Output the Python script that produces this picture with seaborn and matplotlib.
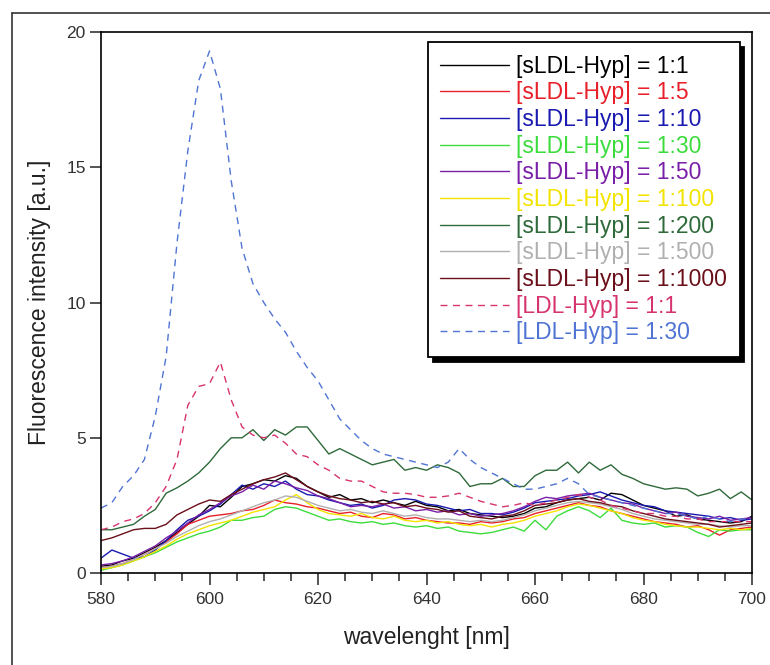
import matplotlib
matplotlib.use("Agg")
import matplotlib.pyplot as plt
import seaborn as sns
import numpy as np

# wavelength grid (nm), values read every 2 nm
wavelength = list(range(580, 701, 2))

s_1_1 = [0.25, 0.3, 0.45, 0.55, 0.75, 0.95, 1.2, 1.5, 1.8, 2.1, 2.5, 2.45, 2.8, 3.2, 3.3, 3.45,
         3.4, 3.6, 3.5, 3.2, 3.0, 2.8, 2.9, 2.7, 2.75, 2.6, 2.7, 2.6, 2.5, 2.65, 2.5, 2.45,
         2.3, 2.35, 2.2, 2.15, 2.1, 2.05, 2.1, 2.2, 2.4, 2.45, 2.6, 2.7, 2.75, 2.8, 2.7, 2.95,
         2.9, 2.7, 2.5, 2.4, 2.3, 2.1, 2.15, 2.0, 1.95, 1.9, 1.85, 1.9, 2.1]
s_1_5 = [0.2, 0.25, 0.35, 0.5, 0.7, 0.9, 1.15, 1.45, 1.8, 1.95, 2.1, 2.15, 2.2, 2.3, 2.35, 2.5,
         2.7, 2.6, 2.55, 2.45, 2.4, 2.3, 2.2, 2.25, 2.1, 2.05, 2.2, 2.15, 2.0, 2.05, 1.95, 1.9,
         1.85, 1.85, 1.8, 1.9, 1.85, 1.9, 2.0, 2.05, 2.2, 2.3, 2.4, 2.5, 2.6, 2.5, 2.45, 2.3,
         2.2, 2.1, 2.0, 1.9, 1.85, 1.8, 1.7, 1.75, 1.6, 1.4, 1.6, 1.65, 1.7]
s_1_10 = [0.55, 0.85, 0.7, 0.55, 0.6, 0.85, 1.2, 1.6, 1.95, 2.1, 2.3, 2.55, 2.9, 3.25, 3.1, 3.3,
          3.2, 3.4, 3.1, 2.9, 2.85, 2.7, 2.6, 2.5, 2.55, 2.4, 2.5, 2.7, 2.75, 2.7, 2.55, 2.5,
          2.4, 2.3, 2.35, 2.2, 2.2, 2.15, 2.25, 2.4, 2.6, 2.65, 2.7, 2.75, 2.85, 2.9, 3.0, 2.85,
          2.7, 2.6, 2.5, 2.45, 2.3, 2.25, 2.2, 2.15, 2.1, 2.0, 2.05, 1.95, 2.0]
s_1_30 = [0.1, 0.2, 0.3, 0.45, 0.6, 0.75, 0.95, 1.15, 1.3, 1.45, 1.55, 1.7, 1.95, 1.95, 2.05, 2.1,
          2.35, 2.45, 2.4, 2.25, 2.1, 1.95, 2.0, 1.9, 1.85, 1.9, 1.8, 1.85, 1.75, 1.7, 1.75, 1.65,
          1.7, 1.55, 1.5, 1.45, 1.5, 1.6, 1.7, 1.55, 1.95, 1.6, 2.1, 2.3, 2.45, 2.3, 2.05, 2.4,
          1.95, 1.85, 1.8, 1.85, 1.7, 1.75, 1.7, 1.5, 1.35, 1.6, 1.55, 1.6, 1.6]
s_1_50 = [0.3, 0.35, 0.45, 0.6, 0.8, 1.0, 1.3, 1.55, 1.85, 2.15, 2.35, 2.6, 2.85, 3.0, 3.25, 3.1,
          3.4, 3.3, 3.15, 3.05, 2.85, 2.75, 2.6, 2.45, 2.5, 2.45, 2.55, 2.4, 2.45, 2.3, 2.35, 2.25,
          2.3, 2.15, 2.2, 2.1, 2.15, 2.2, 2.3, 2.45, 2.65, 2.8, 2.75, 2.85, 2.9, 2.95, 2.8, 2.7,
          2.6, 2.55, 2.4, 2.3, 2.2, 2.25, 2.1, 2.05, 2.0, 2.1, 1.95, 2.0, 2.05]
s_1_100 = [0.15, 0.2, 0.3, 0.45, 0.6, 0.8, 1.0, 1.25, 1.45, 1.6, 1.75, 1.85, 1.95, 2.1, 2.25, 2.35,
           2.45, 2.7, 2.9, 2.6, 2.35, 2.2, 2.15, 2.1, 2.2, 2.05, 2.0, 2.1, 1.95, 1.9, 1.95, 1.85,
           1.9, 1.8, 1.75, 1.8, 1.7, 1.8, 1.85, 1.95, 2.1, 2.2, 2.3, 2.45, 2.55, 2.5, 2.4, 2.3,
           2.2, 2.05, 1.95, 1.9, 1.8, 1.75, 1.7, 1.7, 1.65, 1.6, 1.65, 1.6, 1.65]
s_1_200 = [1.6, 1.6, 1.7, 1.8, 2.1, 2.35, 2.95, 3.15, 3.4, 3.7, 4.1, 4.6, 5.0, 5.0, 5.3, 4.9,
           5.3, 5.1, 5.4, 5.4, 4.9, 4.4, 4.6, 4.4, 4.2, 4.0, 4.1, 4.2, 3.8, 3.9, 3.8, 4.0,
           3.9, 3.7, 3.2, 3.3, 3.3, 3.5, 3.2, 3.2, 3.6, 3.8, 3.8, 4.1, 3.7, 4.1, 3.8, 4.0,
           3.65, 3.5, 3.3, 3.2, 3.1, 3.15, 3.1, 2.85, 2.95, 3.1, 2.75, 3.0, 2.7]
s_1_500 = [0.2, 0.25, 0.35, 0.5, 0.7, 0.9, 1.1, 1.35, 1.55, 1.75, 1.9, 2.0, 2.15, 2.3, 2.45, 2.6,
           2.7, 2.85, 2.8, 2.65, 2.5, 2.4, 2.3, 2.35, 2.25, 2.2, 2.3, 2.2, 2.1, 2.15, 2.05, 2.0,
           2.0, 1.95, 1.9, 1.95, 1.9, 1.95, 2.05, 2.15, 2.3, 2.4, 2.5, 2.6, 2.65, 2.6, 2.55, 2.45,
           2.35, 2.2, 2.1, 2.0, 1.95, 1.9, 1.85, 1.8, 1.8, 1.75, 1.7, 1.75, 1.75]
s_1_1000 = [1.2, 1.3, 1.45, 1.6, 1.65, 1.65, 1.8, 2.15, 2.35, 2.55, 2.7, 2.65, 2.9, 3.1, 3.3, 3.45,
            3.55, 3.7, 3.45, 3.2, 3.0, 2.85, 2.75, 2.7, 2.6, 2.65, 2.55, 2.6, 2.45, 2.5, 2.4, 2.35,
            2.25, 2.3, 2.1, 2.05, 2.0, 2.1, 2.15, 2.3, 2.5, 2.55, 2.6, 2.7, 2.75, 2.65, 2.6, 2.5,
            2.45, 2.3, 2.2, 2.1, 2.0, 1.95, 1.9, 1.85, 1.8, 1.7, 1.75, 1.8, 1.85]
ldl_1_1 = [1.6, 1.7, 1.9, 2.0, 2.2, 2.6, 3.2, 4.2, 6.2, 6.9, 7.0, 7.8, 6.4, 5.4, 5.1, 5.0,
           5.1, 4.8, 4.4, 4.3, 4.0, 3.8, 3.5, 3.4, 3.4, 3.2, 3.0, 2.95, 2.95, 2.9, 2.8, 2.8,
           2.85, 2.95, 2.8, 2.65, 2.55, 2.45, 2.5, 2.6, 2.5, 2.6, 2.7, 2.8, 2.9, 2.8, 2.7, 2.5,
           2.4, 2.3, 2.2, 2.2, 2.1, 2.1, 2.0, 2.0, 1.9, 1.9, 1.9, 1.9, 1.9]
ldl_1_30 = [2.4, 2.6, 3.2, 3.6, 4.2, 5.8, 8.0, 12.2, 15.6, 18.2, 19.3, 17.9, 14.5, 12.0, 10.7, 10.0,
            9.4, 8.9, 8.2, 7.6, 7.1, 6.4, 5.7, 5.3, 4.9, 4.6, 4.4, 4.3, 4.2, 4.1, 4.0, 3.9,
            4.1, 4.6, 4.2, 3.9, 3.7, 3.5, 3.3, 3.1, 3.1, 3.2, 3.3, 3.5, 3.3, 2.9, 2.8, 2.7,
            2.6, 2.5, 2.4, 2.3, 2.2, 2.2, 2.1, 2.0, 2.1, 2.0, 1.9, 2.0, 2.0]

labels = ["[sLDL-Hyp] = 1:1", "[sLDL-Hyp] = 1:5", "[sLDL-Hyp] = 1:10", "[sLDL-Hyp] = 1:30",
          "[sLDL-Hyp] = 1:50", "[sLDL-Hyp] = 1:100", "[sLDL-Hyp] = 1:200", "[sLDL-Hyp] = 1:500",
          "[sLDL-Hyp] = 1:1000", "[LDL-Hyp] = 1:1", "[LDL-Hyp] = 1:30"]
series = [s_1_1, s_1_5, s_1_10, s_1_30, s_1_50, s_1_100, s_1_200, s_1_500, s_1_1000,
          ldl_1_1, ldl_1_30]
colors = ["#000000", "#e8202a", "#1a1ab0", "#3ddc3d", "#7a1fa8", "#f2e400", "#2f6a3a",
          "#b0b0b0", "#6b0f1a", "#d6336f", "#4f74d4"]
styles = ["-"] * 9 + [(0, (5, 4))] * 2

sns.set_style("white")
plt.rcParams["font.family"] = ["Liberation Sans", "DejaVu Sans"]

fig = plt.figure(figsize=(7.7, 6.65), dpi=100)
ax = fig.add_axes([0.1312, 0.1383, 0.8455, 0.8135])

for name, vals, col, ls in zip(labels, series, colors, styles):
    sns.lineplot(x=wavelength, y=vals, ax=ax, color=col, linestyle=ls,
                 linewidth=1.0, label=name)

ax.set_xlim(580, 700)
ax.set_ylim(0, 20)
ax.set_xticks([580, 600, 620, 640, 660, 680, 700])
ax.set_xticks(np.arange(580, 701, 5), minor=True)
ax.set_yticks([0, 5, 10, 15, 20])

for sp in ax.spines.values():
    sp.set_color("black")
    sp.set_linewidth(1.2)

ax.tick_params(axis="x", which="major", direction="out", length=8.5, width=1.1,
               pad=5, labelsize=12.5, labelcolor="#333333", bottom=True)
ax.tick_params(axis="x", which="minor", direction="out", length=5.5, width=1.1, bottom=True)
ax.tick_params(axis="y", which="major", direction="out", length=8, width=1.1,
               pad=3, labelsize=12.5, labelcolor="#333333", left=True)

ax.set_xlabel("wavelenght [nm]", fontsize=16.5, color="#222222", labelpad=14)
ax.set_ylabel("Fluorescence intensity [a.u.]", fontsize=16.5, color="#222222", labelpad=11)

leg = ax.legend(loc="upper left", bbox_to_anchor=(0.502, 0.9815), borderaxespad=0,
                fontsize=16.5, labelcolor="linecolor", frameon=True, fancybox=False,
                edgecolor="black", framealpha=1, handlelength=3.0, handletextpad=0.3,
                labelspacing=0.16, borderpad=0.55,
                shadow={"ox": 3.5, "oy": -3.5, "color": "black", "alpha": 1})
leg.get_frame().set_linewidth(1.3)

# outer frame of the figure
fig.add_artist(plt.Line2D([12 / 770, 12 / 770], [0, 1 - 13 / 665], color="#333333",
                          linewidth=1.2, transform=fig.transFigure))
fig.add_artist(plt.Line2D([12 / 770, 1], [1 - 13 / 665, 1 - 13 / 665], color="#333333",
                          linewidth=1.2, transform=fig.transFigure))

fig.savefig("out.png", dpi=100)
